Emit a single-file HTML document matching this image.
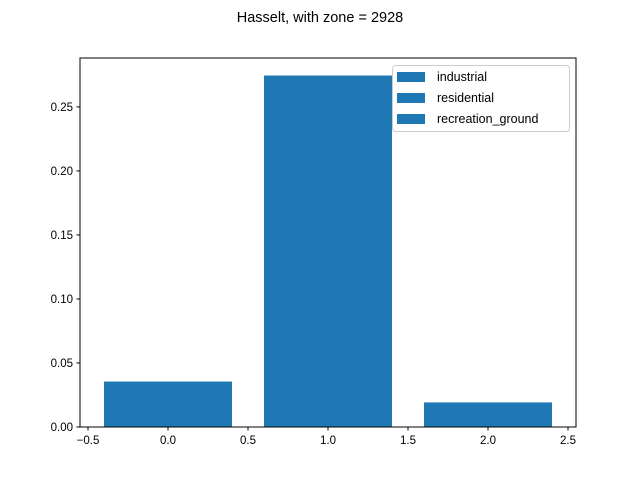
<!DOCTYPE html>
<html><head><meta charset="utf-8"><style>body{margin:0;background:#fff}svg{display:block;font-family:"Liberation Sans","DejaVu Sans",sans-serif}</style></head>
<body>
<svg id="chart" width="640" height="480">
<text x="320" y="22" text-anchor="middle" font-size="14.5">Hasselt, with zone = 2928</text>
<g id="bars"></g>
<g id="axes"></g>
<g id="legend"></g>
</svg>
<script>
const categories = [0, 1, 2];
const values = [0.0355, 0.2745, 0.0192];
const labels = ["industrial", "residential", "recreation_ground"];
const xTicks = [-0.5, 0.0, 0.5, 1.0, 1.5, 2.0, 2.5];
const yTicks = [0.00, 0.05, 0.10, 0.15, 0.20, 0.25];

const L=80,R=576,T=58,B=427;
const xmin=-0.55,xmax=2.55,ymin=0,ymax=0.2882;
const sx=v=>L+(v-xmin)/(xmax-xmin)*(R-L);
const sy=v=>B-(v-ymin)/(ymax-ymin)*(B-T);
const NS="http://www.w3.org/2000/svg";
function mk(tag,attrs,parent){const e=document.createElementNS(NS,tag);for(const k in attrs)e.setAttribute(k,attrs[k]);parent.appendChild(e);return e;}
const bars=document.getElementById('bars'),axes=document.getElementById('axes'),leg=document.getElementById('legend');
categories.forEach((c,i)=>{
  const r=mk('rect',{x:sx(c-0.4),y:sy(values[i]),width:sx(c+0.4)-sx(c-0.4),height:sy(0)-sy(values[i]),fill:'#1f77b4'},bars);
  
  
});
const frame=mk('rect',{x:L,y:T,width:R-L,height:B-T,fill:'none',stroke:'#000','stroke-width':1},axes);


xTicks.forEach(t=>{
  const x=sx(t);
  mk('line',{x1:x,x2:x,y1:B,y2:B+3.5,stroke:'#000'},axes);
  const tx=mk('text',{x:x,y:B+17,'text-anchor':'middle','font-size':11.5},axes);
  tx.textContent=t.toFixed(1).replace('-','\u2212');
  
  
});
yTicks.forEach(t=>{
  const y=sy(t);
  mk('line',{x1:L-3.5,x2:L,y1:y,y2:y,stroke:'#000'},axes);
  const tx=mk('text',{x:L-7,y:y+4,'text-anchor':'end','font-size':11.5},axes);
  tx.textContent=t.toFixed(2);
  
  
});
const box=mk('rect',{x:392.5,y:65.5,width:177,height:66,rx:3,fill:'#fff','fill-opacity':0.8,stroke:'#ccc'},leg);


labels.forEach((l,i)=>{
  const y=76+i*21;
  const p=mk('rect',{x:397,y:y-4,width:28,height:10,fill:'#1f77b4'},leg);
  
  
  const tx=mk('text',{x:437,y:y+5,'font-size':12.5},leg);
  tx.textContent=l;
  
  
});
</script>
</body></html>
